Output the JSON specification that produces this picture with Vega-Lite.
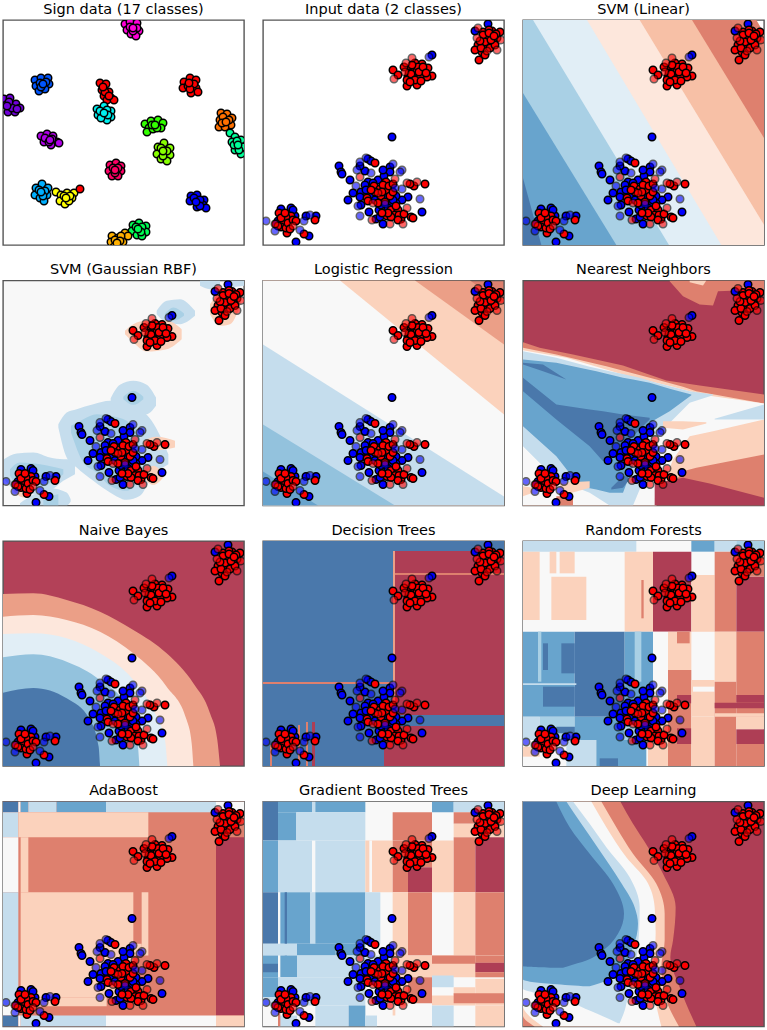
{"$schema":"https://vega.github.io/schema/vega-lite/v6.json","padding":{"left":2,"top":0,"right":0,"bottom":0},"config":{"view":{"stroke":"#555","strokeWidth":1.4},"title":{"font":"DejaVu Sans","fontSize":14.5,"fontWeight":"normal","anchor":"middle","offset":3,"color":"#000"},"legend":{"disable":true},"range":{"category":["#4a78ab","#68a4cd","#93c2dd","#a9d0e5","#c5dded","#e1eef6","#f8f8f8","#fde7dc","#fbd2bc","#f7c0a6","#eb9f87","#de806e","#ae3e55"]}},"columns":3,"spacing":{"row":14.5,"column":17},"resolve":{"scale":{"color":"shared","fill":"independent","opacity":"independent"}},
"datasets":{
"two":[
{"x":129,"y":117,"c":"0","s":"train"},{"x":76,"y":146,"c":"0","s":"train"},{"x":78,"y":152,"c":"0","s":"train"},{"x":79,"y":154,"c":"0","s":"train"},{"x":87,"y":160,"c":"0","s":"train"},{"x":85,"y":180,"c":"0","s":"train"},{"x":90,"y":173,"c":"0","s":"train"},{"x":98,"y":172,"c":"0","s":"train"},{"x":97,"y":177,"c":"0","s":"train"},{"x":98,"y":185,"c":"0","s":"train"},{"x":106,"y":192,"c":"0","s":"train"},{"x":116,"y":190,"c":"0","s":"train"},{"x":113,"y":199,"c":"0","s":"train"},{"x":117,"y":197,"c":"0","s":"train"},{"x":120,"y":204,"c":"0","s":"train"},{"x":159,"y":192,"c":"0","s":"train"},{"x":145,"y":177,"c":"0","s":"train"},{"x":139,"y":180,"c":"0","s":"train"},{"x":133,"y":183,"c":"0","s":"train"},{"x":123,"y":178,"c":"0","s":"train"},{"x":109,"y":176,"c":"0","s":"train"},{"x":115,"y":160,"c":"0","s":"train"},{"x":105,"y":162,"c":"0","s":"train"},{"x":110,"y":163,"c":"0","s":"train"},{"x":102,"y":151,"c":"0","s":"train"},{"x":105,"y":139,"c":"0","s":"train"},{"x":108,"y":141,"c":"0","s":"train"},{"x":127,"y":147,"c":"0","s":"train"},{"x":127,"y":152,"c":"0","s":"train"},{"x":121,"y":156,"c":"0","s":"train"},{"x":133,"y":176,"c":"0","s":"train"},{"x":128,"y":184,"c":"0","s":"train"},{"x":97,"y":146,"c":"0","s":"train"},{"x":102,"y":165,"c":"0","s":"train"},{"x":118,"y":185,"c":"0","s":"train"},{"x":125,"y":188,"c":"0","s":"train"},{"x":130,"y":180,"c":"0","s":"train"},{"x":112,"y":180,"c":"0","s":"train"},{"x":103,"y":170,"c":"0","s":"train"},{"x":120,"y":150,"c":"0","s":"train"},{"x":126,"y":172,"c":"0","s":"train"},
{"x":18,"y":189,"c":"0","s":"train"},{"x":28,"y":188,"c":"0","s":"train"},{"x":15,"y":201,"c":"0","s":"train"},{"x":43,"y":196,"c":"0","s":"train"},{"x":53,"y":196,"c":"0","s":"train"},{"x":33,"y":222,"c":"0","s":"train"},{"x":46,"y":216,"c":"0","s":"train"},{"x":32,"y":196,"c":"0","s":"train"},{"x":30,"y":190,"c":"0","s":"train"},{"x":13,"y":204,"c":"0","s":"train"},
{"x":169,"y":35,"c":"0","s":"train"},{"x":212,"y":11,"c":"0","s":"train"},{"x":225,"y":4,"c":"0","s":"train"},
{"x":112,"y":143,"c":"1","s":"train"},{"x":162,"y":164,"c":"1","s":"train"},{"x":151,"y":166,"c":"1","s":"train"},{"x":147,"y":164,"c":"1","s":"train"},{"x":104,"y":178,"c":"1","s":"train"},{"x":123,"y":162,"c":"1","s":"train"},{"x":111,"y":166,"c":"1","s":"train"},{"x":117,"y":169,"c":"1","s":"train"},{"x":124,"y":170,"c":"1","s":"train"},{"x":127,"y":176,"c":"1","s":"train"},{"x":128,"y":190,"c":"1","s":"train"},{"x":135,"y":190,"c":"1","s":"train"},{"x":132,"y":195,"c":"1","s":"train"},{"x":124,"y":196,"c":"1","s":"train"},{"x":138,"y":199,"c":"1","s":"train"},{"x":148,"y":197,"c":"1","s":"train"},{"x":150,"y":198,"c":"1","s":"train"},{"x":118,"y":176,"c":"1","s":"train"},{"x":105,"y":181,"c":"1","s":"train"},{"x":120,"y":165,"c":"1","s":"train"},{"x":128,"y":197,"c":"1","s":"train"},{"x":136,"y":195,"c":"1","s":"train"},{"x":112,"y":172,"c":"1","s":"train"},{"x":119,"y":172,"c":"1","s":"train"},{"x":126,"y":166,"c":"1","s":"train"},{"x":130,"y":172,"c":"1","s":"train"},{"x":122,"y":182,"c":"1","s":"train"},{"x":115,"y":183,"c":"1","s":"train"},{"x":125,"y":193,"c":"1","s":"train"},{"x":133,"y":186,"c":"1","s":"train"},{"x":141,"y":194,"c":"1","s":"train"},{"x":108,"y":170,"c":"1","s":"train"},{"x":130,"y":164,"c":"1","s":"train"},{"x":135,"y":200,"c":"1","s":"train"},{"x":119,"y":193,"c":"1","s":"train"},
{"x":16,"y":193,"c":"1","s":"train"},{"x":24,"y":213,"c":"1","s":"train"},{"x":21,"y":202,"c":"1","s":"train"},{"x":28,"y":196,"c":"1","s":"train"},{"x":18,"y":207,"c":"1","s":"train"},{"x":52,"y":200,"c":"1","s":"train"},{"x":41,"y":214,"c":"1","s":"train"},{"x":23,"y":197,"c":"1","s":"train"},{"x":23,"y":208,"c":"1","s":"train"},{"x":18,"y":198,"c":"1","s":"train"},{"x":25,"y":203,"c":"1","s":"train"},{"x":30,"y":200,"c":"1","s":"train"},{"x":22,"y":193,"c":"1","s":"train"},{"x":15,"y":206,"c":"1","s":"train"},{"x":27,"y":209,"c":"1","s":"train"},{"x":33,"y":201,"c":"1","s":"train"},
{"x":130,"y":50,"c":"1","s":"train"},{"x":135,"y":55,"c":"1","s":"train"},{"x":144,"y":66,"c":"1","s":"train"},{"x":154,"y":65,"c":"1","s":"train"},{"x":169,"y":56,"c":"1","s":"train"},{"x":164,"y":57,"c":"1","s":"train"},{"x":157,"y":57,"c":"1","s":"train"},{"x":161,"y":51,"c":"1","s":"train"},{"x":165,"y":48,"c":"1","s":"train"},{"x":159,"y":44,"c":"1","s":"train"},{"x":152,"y":43,"c":"1","s":"train"},{"x":147,"y":48,"c":"1","s":"train"},{"x":150,"y":52,"c":"1","s":"train"},{"x":145,"y":57,"c":"1","s":"train"},{"x":144,"y":60,"c":"1","s":"train"},{"x":150,"y":58,"c":"1","s":"train"},{"x":154,"y":50,"c":"1","s":"train"},{"x":155,"y":47,"c":"1","s":"train"},{"x":146,"y":53,"c":"1","s":"train"},{"x":148,"y":54,"c":"1","s":"train"},{"x":156,"y":52,"c":"1","s":"train"},{"x":160,"y":47,"c":"1","s":"train"},{"x":141,"y":47,"c":"1","s":"train"},{"x":152,"y":60,"c":"1","s":"train"},{"x":158,"y":61,"c":"1","s":"train"},{"x":163,"y":53,"c":"1","s":"train"},{"x":149,"y":45,"c":"1","s":"train"},{"x":147,"y":62,"c":"1","s":"train"},
{"x":216,"y":40,"c":"1","s":"train"},{"x":220,"y":12,"c":"1","s":"train"},{"x":229,"y":11,"c":"1","s":"train"},{"x":237,"y":12,"c":"1","s":"train"},{"x":234,"y":18,"c":"1","s":"train"},{"x":230,"y":22,"c":"1","s":"train"},{"x":215,"y":25,"c":"1","s":"train"},{"x":220,"y":18,"c":"1","s":"train"},{"x":225,"y":17,"c":"1","s":"train"},{"x":224,"y":25,"c":"1","s":"train"},{"x":219,"y":32,"c":"1","s":"train"},{"x":212,"y":30,"c":"1","s":"train"},{"x":227,"y":28,"c":"1","s":"train"},{"x":232,"y":25,"c":"1","s":"train"},{"x":220,"y":15,"c":"1","s":"train"},{"x":226,"y":10,"c":"1","s":"train"},{"x":222,"y":22,"c":"1","s":"train"},{"x":228,"y":20,"c":"1","s":"train"},{"x":218,"y":28,"c":"1","s":"train"},{"x":233,"y":14,"c":"1","s":"train"},{"x":217,"y":21,"c":"1","s":"train"},{"x":226,"y":13,"c":"1","s":"train"},{"x":222,"y":35,"c":"1","s":"train"},{"x":231,"y":16,"c":"1","s":"train"},
{"x":97,"y":196,"c":"0","s":"test"},{"x":95,"y":186,"c":"0","s":"test"},{"x":157,"y":179,"c":"0","s":"test"},{"x":139,"y":169,"c":"0","s":"test"},{"x":139,"y":150,"c":"0","s":"test"},{"x":130,"y":144,"c":"0","s":"test"},{"x":103,"y":138,"c":"0","s":"test"},{"x":97,"y":142,"c":"0","s":"test"},{"x":94,"y":150,"c":"0","s":"test"},{"x":108,"y":153,"c":"0","s":"test"},{"x":93,"y":166,"c":"0","s":"test"},{"x":122,"y":184,"c":"0","s":"test"},{"x":137,"y":152,"c":"0","s":"test"},{"x":132,"y":168,"c":"0","s":"test"},{"x":3,"y":201,"c":"0","s":"test"},{"x":12,"y":211,"c":"0","s":"test"},{"x":41,"y":201,"c":"0","s":"test"},{"x":47,"y":195,"c":"0","s":"test"},{"x":37,"y":210,"c":"0","s":"test"},{"x":166,"y":37,"c":"0","s":"test"},
{"x":97,"y":157,"c":"1","s":"test"},{"x":144,"y":163,"c":"1","s":"test"},{"x":154,"y":162,"c":"1","s":"test"},{"x":144,"y":188,"c":"1","s":"test"},{"x":127,"y":204,"c":"1","s":"test"},{"x":140,"y":204,"c":"1","s":"test"},{"x":109,"y":200,"c":"1","s":"test"},{"x":110,"y":183,"c":"1","s":"test"},{"x":132,"y":159,"c":"1","s":"test"},{"x":115,"y":173,"c":"1","s":"test"},{"x":12,"y":204,"c":"1","s":"test"},{"x":30,"y":206,"c":"1","s":"test"},{"x":131,"y":59,"c":"1","s":"test"},{"x":143,"y":43,"c":"1","s":"test"},{"x":149,"y":38,"c":"1","s":"test"},{"x":142,"y":52,"c":"1","s":"test"},{"x":215,"y":8,"c":"1","s":"test"},{"x":234,"y":30,"c":"1","s":"test"},{"x":214,"y":18,"c":"1","s":"test"},{"x":224,"y":31,"c":"1","s":"test"},{"x":238,"y":20,"c":"1","s":"test"}
],
"sign":[
{"x":122,"y":4,"c":"m"},{"x":127,"y":2,"c":"m"},{"x":134,"y":3,"c":"m"},{"x":124,"y":10,"c":"m"},{"x":136,"y":11,"c":"m"},{"x":128,"y":14,"c":"m"},{"x":133,"y":16,"c":"m"},{"x":127,"y":7,"c":"m"},{"x":134,"y":8,"c":"m"},{"x":130,"y":11,"c":"m"},{"x":130,"y":8,"c":"m"},
{"x":32,"y":60,"c":"bl"},{"x":38,"y":58,"c":"bl"},{"x":45,"y":58,"c":"bl"},{"x":33,"y":66,"c":"bl"},{"x":46,"y":64,"c":"bl"},{"x":36,"y":71,"c":"bl"},{"x":42,"y":69,"c":"bl"},{"x":37,"y":63,"c":"bl"},{"x":43,"y":62,"c":"bl"},{"x":38,"y":67,"c":"bl"},{"x":40,"y":64,"c":"bl"},
{"x":1,"y":79,"c":"pu"},{"x":7,"y":78,"c":"pu"},{"x":13,"y":84,"c":"pu"},{"x":17,"y":88,"c":"pu"},{"x":5,"y":92,"c":"pu"},{"x":12,"y":92,"c":"pu"},{"x":3,"y":85,"c":"pu"},{"x":9,"y":88,"c":"pu"},{"x":14,"y":89,"c":"pu"},{"x":6,"y":82,"c":"pu"},{"x":4,"y":86,"c":"pu"},
{"x":97,"y":63,"c":"re"},{"x":103,"y":64,"c":"re"},{"x":99,"y":70,"c":"re"},{"x":106,"y":72,"c":"re"},{"x":101,"y":76,"c":"re"},{"x":108,"y":78,"c":"re"},{"x":104,"y":80,"c":"re"},{"x":111,"y":80,"c":"re"},{"x":102,"y":72,"c":"re"},{"x":106,"y":76,"c":"re"},{"x":100,"y":67,"c":"re"},
{"x":181,"y":62,"c":"re"},{"x":187,"y":58,"c":"re"},{"x":193,"y":60,"c":"re"},{"x":180,"y":68,"c":"re"},{"x":193,"y":68,"c":"re"},{"x":188,"y":73,"c":"re"},{"x":195,"y":72,"c":"re"},{"x":185,"y":66,"c":"re"},{"x":191,"y":64,"c":"re"},{"x":187,"y":69,"c":"re"},{"x":186,"y":63,"c":"re"},
{"x":94,"y":89,"c":"cy"},{"x":101,"y":86,"c":"cy"},{"x":108,"y":91,"c":"cy"},{"x":95,"y":95,"c":"cy"},{"x":108,"y":97,"c":"cy"},{"x":104,"y":100,"c":"cy"},{"x":98,"y":98,"c":"cy"},{"x":97,"y":91,"c":"cy"},{"x":104,"y":90,"c":"cy"},{"x":105,"y":95,"c":"cy"},{"x":101,"y":93,"c":"cy"},
{"x":142,"y":104,"c":"gr"},{"x":148,"y":101,"c":"gr"},{"x":155,"y":100,"c":"gr"},{"x":160,"y":103,"c":"gr"},{"x":146,"y":108,"c":"gr"},{"x":158,"y":108,"c":"gr"},{"x":144,"y":112,"c":"gr"},{"x":150,"y":109,"c":"gr"},{"x":154,"y":108,"c":"gr"},{"x":149,"y":105,"c":"gr"},{"x":152,"y":105,"c":"gr"},
{"x":218,"y":93,"c":"or"},{"x":224,"y":94,"c":"or"},{"x":229,"y":98,"c":"or"},{"x":217,"y":100,"c":"or"},{"x":228,"y":105,"c":"or"},{"x":216,"y":107,"c":"or"},{"x":222,"y":107,"c":"or"},{"x":220,"y":97,"c":"or"},{"x":226,"y":100,"c":"or"},{"x":219,"y":103,"c":"or"},{"x":223,"y":102,"c":"or"},
{"x":38,"y":116,"c":"vi"},{"x":44,"y":114,"c":"vi"},{"x":50,"y":116,"c":"vi"},{"x":41,"y":122,"c":"vi"},{"x":54,"y":122,"c":"vi"},{"x":48,"y":125,"c":"vi"},{"x":56,"y":123,"c":"vi"},{"x":42,"y":118,"c":"vi"},{"x":46,"y":122,"c":"vi"},{"x":49,"y":119,"c":"vi"},{"x":47,"y":120,"c":"vi"},
{"x":227,"y":113,"c":"sp"},{"x":232,"y":117,"c":"sp"},{"x":238,"y":120,"c":"sp"},{"x":229,"y":122,"c":"sp"},{"x":240,"y":127,"c":"sp"},{"x":232,"y":130,"c":"sp"},{"x":238,"y":134,"c":"sp"},{"x":231,"y":125,"c":"sp"},{"x":236,"y":130,"c":"sp"},{"x":234,"y":121,"c":"sp"},{"x":235,"y":125,"c":"sp"},
{"x":155,"y":127,"c":"ye"},{"x":161,"y":123,"c":"ye"},{"x":167,"y":128,"c":"ye"},{"x":154,"y":134,"c":"ye"},{"x":167,"y":135,"c":"ye"},{"x":158,"y":139,"c":"ye"},{"x":164,"y":141,"c":"ye"},{"x":158,"y":128,"c":"ye"},{"x":164,"y":131,"c":"ye"},{"x":160,"y":136,"c":"ye"},{"x":160,"y":131,"c":"ye"},
{"x":107,"y":145,"c":"cr"},{"x":113,"y":143,"c":"cr"},{"x":118,"y":146,"c":"cr"},{"x":106,"y":151,"c":"cr"},{"x":118,"y":151,"c":"cr"},{"x":109,"y":156,"c":"cr"},{"x":115,"y":156,"c":"cr"},{"x":110,"y":148,"c":"cr"},{"x":115,"y":148,"c":"cr"},{"x":112,"y":153,"c":"cr"},{"x":112,"y":150,"c":"cr"},
{"x":33,"y":168,"c":"sk"},{"x":39,"y":164,"c":"sk"},{"x":45,"y":168,"c":"sk"},{"x":32,"y":175,"c":"sk"},{"x":44,"y":175,"c":"sk"},{"x":37,"y":178,"c":"sk"},{"x":41,"y":181,"c":"sk"},{"x":36,"y":170,"c":"sk"},{"x":42,"y":171,"c":"sk"},{"x":40,"y":176,"c":"sk"},{"x":38,"y":172,"c":"sk"},
{"x":53,"y":172,"c":"yl"},{"x":58,"y":175,"c":"yl"},{"x":64,"y":173,"c":"yl"},{"x":71,"y":173,"c":"yl"},{"x":57,"y":181,"c":"yl"},{"x":69,"y":178,"c":"yl"},{"x":62,"y":184,"c":"yl"},{"x":66,"y":181,"c":"yl"},{"x":61,"y":176,"c":"yl"},{"x":67,"y":176,"c":"yl"},{"x":63,"y":178,"c":"yl"},{"x":77,"y":169,"c":"re"},
{"x":188,"y":176,"c":"bu"},{"x":194,"y":175,"c":"bu"},{"x":201,"y":180,"c":"bu"},{"x":187,"y":181,"c":"bu"},{"x":200,"y":185,"c":"bu"},{"x":194,"y":187,"c":"bu"},{"x":203,"y":188,"c":"bu"},{"x":191,"y":178,"c":"bu"},{"x":197,"y":180,"c":"bu"},{"x":197,"y":186,"c":"bu"},{"x":193,"y":182,"c":"bu"},
{"x":130,"y":205,"c":"gn"},{"x":136,"y":203,"c":"gn"},{"x":143,"y":206,"c":"gn"},{"x":129,"y":211,"c":"gn"},{"x":143,"y":212,"c":"gn"},{"x":134,"y":215,"c":"gn"},{"x":139,"y":216,"c":"gn"},{"x":133,"y":207,"c":"gn"},{"x":139,"y":207,"c":"gn"},{"x":138,"y":212,"c":"gn"},{"x":135,"y":209,"c":"gn"},
{"x":109,"y":216,"c":"am"},{"x":115,"y":218,"c":"am"},{"x":122,"y":213,"c":"am"},{"x":108,"y":222,"c":"am"},{"x":120,"y":222,"c":"am"},{"x":125,"y":216,"c":"am"},{"x":111,"y":227,"c":"am"},{"x":112,"y":220,"c":"am"},{"x":118,"y":216,"c":"am"},{"x":117,"y":221,"c":"am"},{"x":114,"y":223,"c":"am"}
],
"knn":[
{"g":"a1","l":"m","x":440,"y":3,"y2":5},{"g":"a1","l":"m","x":480,"y":3,"y2":50},{"g":"a1","l":"m","x":530,"y":3,"y2":75},{"g":"a1","l":"m","x":570,"y":3,"y2":78},{"g":"a1","l":"m","x":585,"y":3,"y2":35},{"g":"a1","l":"m","x":723,"y":3,"y2":30},
{"g":"a2","l":"j","x":500,"y":3,"y2":8},{"g":"a2","l":"j","x":540,"y":3,"y2":18},{"g":"a2","l":"j","x":550,"y":3,"y2":3},
{"g":"b","l":"m","x":0,"y":188,"y2":678},{"g":"b","l":"m","x":50,"y":205,"y2":678},{"g":"b","l":"m","x":150,"y":225,"y2":678},{"g":"b","l":"m","x":300,"y":258,"y2":678},{"g":"b","l":"m","x":430,"y":303,"y2":678},{"g":"b","l":"m","x":530,"y":318,"y2":678},{"g":"b","l":"m","x":723,"y":345,"y2":678},
{"g":"c","l":"j","x":0,"y":205,"y2":678},{"g":"c","l":"j","x":100,"y":225,"y2":678},{"g":"c","l":"j","x":250,"y":260,"y2":678},{"g":"c","l":"j","x":400,"y":300,"y2":678},{"g":"c","l":"j","x":480,"y":322,"y2":575},{"g":"c","l":"j","x":520,"y":335,"y2":565},{"g":"c","l":"j","x":723,"y":372,"y2":525},
{"g":"d","l":"h","x":0,"y":212,"y2":678},{"g":"d","l":"h","x":130,"y":235,"y2":678},{"g":"d","l":"h","x":300,"y":285,"y2":678},{"g":"d","l":"h","x":400,"y":310,"y2":678},{"g":"d","l":"h","x":450,"y":322,"y2":540},{"g":"d","l":"h","x":500,"y":335,"y2":470},{"g":"d","l":"h","x":570,"y":350,"y2":455},{"g":"d","l":"h","x":723,"y":372,"y2":420},
{"g":"e","l":"f","x":0,"y":215,"y2":500},{"g":"e","l":"f","x":100,"y":235,"y2":600},{"g":"e","l":"f","x":200,"y":262,"y2":640},{"g":"e","l":"f","x":260,"y":275,"y2":678},{"g":"e","l":"f","x":330,"y":290,"y2":678},{"g":"e","l":"f","x":350,"y":295,"y2":630},{"g":"e","l":"f","x":400,"y":310,"y2":470},{"g":"e","l":"f","x":500,"y":335,"y2":370},{"g":"e","l":"f","x":570,"y":345,"y2":347},
{"g":"e2","l":"f","x":575,"y":418,"y2":420},{"g":"e2","l":"f","x":723,"y":375,"y2":420},
{"g":"f","l":"b","x":0,"y":240,"y2":440},{"g":"f","l":"b","x":100,"y":250,"y2":530},{"g":"f","l":"b","x":170,"y":265,"y2":620},{"g":"f","l":"b","x":220,"y":275,"y2":630},{"g":"f","l":"b","x":260,"y":285,"y2":640},{"g":"f","l":"b","x":300,"y":295,"y2":640},{"g":"f","l":"b","x":330,"y":300,"y2":560},{"g":"f","l":"b","x":380,"y":310,"y2":430},{"g":"f","l":"b","x":440,"y":328,"y2":395},{"g":"f","l":"b","x":505,"y":345,"y2":347},
{"g":"g","l":"a","x":0,"y":295,"y2":335},{"g":"g","l":"a","x":100,"y":375,"y2":420},{"g":"g","l":"a","x":200,"y":390,"y2":500},{"g":"g","l":"a","x":240,"y":395,"y2":545},{"g":"g","l":"a","x":300,"y":405,"y2":500},{"g":"g","l":"a","x":380,"y":415,"y2":420},
{"g":"g2","l":"a","x":0,"y":250,"y2":255},{"g":"g2","l":"a","x":60,"y":255,"y2":275},{"g":"g2","l":"a","x":130,"y":300,"y2":300},
{"g":"g3","l":"a","x":265,"y":625,"y2":630},{"g":"g3","l":"a","x":300,"y":590,"y2":625},{"g":"g3","l":"a","x":315,"y":590,"y2":605},
{"g":"h","l":"j","x":0,"y":620,"y2":650},{"g":"h","l":"j","x":30,"y":625,"y2":640},
{"g":"h2","l":"j","x":110,"y":610,"y2":650},{"g":"h2","l":"j","x":200,"y":605,"y2":625},
{"g":"h3","l":"m","x":100,"y":650,"y2":678},{"g":"h3","l":"m","x":150,"y":650,"y2":678},
{"g":"h4","l":"j","x":420,"y":425,"y2":445},{"g":"h4","l":"j","x":480,"y":425,"y2":450},{"g":"h4","l":"j","x":550,"y":428,"y2":432},
{"g":"i","l":"n","x":395,"y":612,"y2":678},{"g":"i","l":"n","x":480,"y":595,"y2":678},{"g":"i","l":"n","x":560,"y":612,"y2":678},{"g":"i","l":"n","x":723,"y":655,"y2":678}
],
"rbf":[
{"g":"a","l":"f","x":12,"y":545,"y2":605},{"g":"a","l":"f","x":50,"y":528,"y2":640},{"g":"a","l":"f","x":100,"y":525,"y2":650},{"g":"a","l":"f","x":150,"y":540,"y2":640},{"g":"a","l":"f","x":190,"y":545,"y2":610},{"g":"a","l":"f","x":225,"y":545,"y2":590},
{"g":"b","l":"f","x":175,"y":440,"y2":450},{"g":"b","l":"f","x":200,"y":405,"y2":540},{"g":"b","l":"f","x":230,"y":395,"y2":570},{"g":"b","l":"f","x":280,"y":380,"y2":610},{"g":"b","l":"f","x":330,"y":370,"y2":645},{"g":"b","l":"f","x":380,"y":385,"y2":667},{"g":"b","l":"f","x":420,"y":395,"y2":655},{"g":"b","l":"f","x":455,"y":430,"y2":600},{"g":"b","l":"f","x":505,"y":530,"y2":560},
{"g":"c","l":"f","x":332,"y":362,"y2":375},{"g":"c","l":"f","x":360,"y":322,"y2":400},{"g":"c","l":"f","x":400,"y":310,"y2":400},{"g":"c","l":"f","x":440,"y":322,"y2":410},{"g":"c","l":"f","x":468,"y":360,"y2":385},
{"g":"d","l":"f","x":60,"y":677,"y2":684},{"g":"d","l":"f","x":100,"y":652,"y2":684},{"g":"d","l":"f","x":150,"y":632,"y2":684},{"g":"d","l":"f","x":200,"y":645,"y2":684},{"g":"d","l":"f","x":212,"y":665,"y2":672},
{"g":"e","l":"f","x":470,"y":100,"y2":110},{"g":"e","l":"f","x":500,"y":70,"y2":135},{"g":"e","l":"f","x":540,"y":65,"y2":140},{"g":"e","l":"f","x":585,"y":100,"y2":115},
{"g":"f","l":"f","x":600,"y":9,"y2":25},{"g":"f","l":"f","x":630,"y":9,"y2":35},{"g":"f","l":"f","x":660,"y":9,"y2":30},{"g":"f2","l":"f","x":690,"y":9,"y2":30},{"g":"f2","l":"f","x":732,"y":9,"y2":25},
{"g":"m1","l":"e","x":30,"y":575,"y2":595},{"g":"m1","l":"e","x":60,"y":555,"y2":625},{"g":"m1","l":"e","x":120,"y":560,"y2":625},{"g":"m1","l":"e","x":190,"y":575,"y2":590},
{"g":"m2","l":"e","x":213,"y":445,"y2":465},{"g":"m2","l":"e","x":250,"y":425,"y2":555},{"g":"m2","l":"e","x":290,"y":410,"y2":585},{"g":"m2","l":"e","x":330,"y":415,"y2":625},{"g":"m2","l":"e","x":380,"y":430,"y2":640},{"g":"m2","l":"e","x":420,"y":470,"y2":600},
{"g":"m3","l":"e","x":370,"y":358,"y2":365},{"g":"m3","l":"e","x":400,"y":340,"y2":382},{"g":"m3","l":"e","x":430,"y":358,"y2":365},
{"g":"m4","l":"e","x":495,"y":108,"y2":115},{"g":"m4","l":"e","x":520,"y":90,"y2":130},{"g":"m4","l":"e","x":552,"y":108,"y2":115},
{"g":"m5","l":"e","x":130,"y":660,"y2":684},{"g":"m5","l":"e","x":175,"y":650,"y2":684},
{"g":"n1","l":"j","x":375,"y":160,"y2":170},{"g":"n1","l":"j","x":400,"y":140,"y2":195},{"g":"n1","l":"j","x":440,"y":130,"y2":222},{"g":"n1","l":"j","x":500,"y":130,"y2":215},{"g":"n1","l":"j","x":545,"y":155,"y2":185},
{"g":"n2","l":"j","x":630,"y":80,"y2":110},{"g":"n2","l":"j","x":660,"y":50,"y2":145},{"g":"n2","l":"j","x":690,"y":60,"y2":140},{"g":"n2","l":"j","x":722,"y":60,"y2":80},
{"g":"n3","l":"j","x":430,"y":490,"y2":505},{"g":"n3","l":"j","x":470,"y":478,"y2":518},{"g":"n3","l":"j","x":525,"y":490,"y2":510},
{"g":"n4","l":"j","x":430,"y":590,"y2":600},{"g":"n4","l":"j","x":460,"y":565,"y2":622},{"g":"n4","l":"j","x":490,"y":590,"y2":600},
{"g":"n5","l":"j","x":40,"y":625,"y2":640},{"g":"n5","l":"j","x":70,"y":625,"y2":660},{"g":"n5","l":"j","x":95,"y":625,"y2":640}
],
"nb":[
{"g":"a","l":"l","x":9,"y":162,"y2":678},{"g":"a","l":"l","x":100,"y":160,"y2":678},{"g":"a","l":"l","x":200,"y":180,"y2":678},{"g":"a","l":"l","x":300,"y":215,"y2":678},{"g":"a","l":"l","x":400,"y":270,"y2":678},{"g":"a","l":"l","x":500,"y":340,"y2":678},{"g":"a","l":"l","x":580,"y":430,"y2":678},{"g":"a","l":"l","x":630,"y":520,"y2":678},{"g":"a","l":"l","x":652,"y":600,"y2":678},{"g":"a","l":"l","x":660,"y":678,"y2":678},
{"g":"b","l":"i","x":9,"y":230,"y2":678},{"g":"b","l":"i","x":100,"y":225,"y2":678},{"g":"b","l":"i","x":200,"y":240,"y2":678},{"g":"b","l":"i","x":300,"y":275,"y2":678},{"g":"b","l":"i","x":400,"y":340,"y2":678},{"g":"b","l":"i","x":500,"y":440,"y2":678},{"g":"b","l":"i","x":560,"y":540,"y2":678},{"g":"b","l":"i","x":575,"y":610,"y2":678},{"g":"b","l":"i","x":580,"y":678,"y2":678},
{"g":"c","l":"g","x":9,"y":282,"y2":678},{"g":"c","l":"g","x":100,"y":280,"y2":678},{"g":"c","l":"g","x":200,"y":295,"y2":678},{"g":"c","l":"g","x":300,"y":340,"y2":678},{"g":"c","l":"g","x":400,"y":420,"y2":678},{"g":"c","l":"g","x":460,"y":510,"y2":678},{"g":"c","l":"g","x":495,"y":600,"y2":678},{"g":"c","l":"g","x":502,"y":678,"y2":678},
{"g":"d","l":"d","x":9,"y":352,"y2":678},{"g":"d","l":"d","x":100,"y":343,"y2":678},{"g":"d","l":"d","x":200,"y":365,"y2":678},{"g":"d","l":"d","x":300,"y":420,"y2":678},{"g":"d","l":"d","x":380,"y":500,"y2":678},{"g":"d","l":"d","x":412,"y":600,"y2":678},{"g":"d","l":"d","x":418,"y":678,"y2":678},
{"g":"e","l":"a","x":9,"y":458,"y2":678},{"g":"e","l":"a","x":100,"y":444,"y2":678},{"g":"e","l":"a","x":200,"y":475,"y2":678},{"g":"e","l":"a","x":270,"y":540,"y2":678},{"g":"e","l":"a","x":296,"y":620,"y2":678},{"g":"e","l":"a","x":300,"y":678,"y2":678}
],
"deep":[
{"g":"a","l":"m","y":3,"x":0,"x2":292},{"g":"a","l":"m","y":70,"x":0,"x2":330},{"g":"a","l":"m","y":140,"x":0,"x2":375},{"g":"a","l":"m","y":220,"x":0,"x2":420},{"g":"a","l":"m","y":320,"x":0,"x2":458},{"g":"a","l":"m","y":420,"x":0,"x2":450},{"g":"a","l":"m","y":470,"x":0,"x2":442},{"g":"a","l":"m","y":560,"x":0,"x2":470},{"g":"a","l":"m","y":678,"x":0,"x2":520},
{"g":"b","l":"j","y":3,"x":0,"x2":235},{"g":"b","l":"j","y":80,"x":0,"x2":280},{"g":"b","l":"j","y":160,"x":0,"x2":330},{"g":"b","l":"j","y":250,"x":0,"x2":400},{"g":"b","l":"j","y":340,"x":0,"x2":425},{"g":"b","l":"j","y":420,"x":0,"x2":425},{"g":"b","l":"j","y":500,"x":0,"x2":415},{"g":"b","l":"j","y":600,"x":0,"x2":430},{"g":"b","l":"j","y":645,"x":0,"x2":450},{"g":"b","l":"j","y":678,"x":35,"x2":468},
{"g":"c","l":"h","y":3,"x":0,"x2":205},{"g":"c","l":"h","y":80,"x":0,"x2":250},{"g":"c","l":"h","y":170,"x":0,"x2":310},{"g":"c","l":"h","y":240,"x":0,"x2":370},{"g":"c","l":"h","y":320,"x":0,"x2":395},{"g":"c","l":"h","y":400,"x":0,"x2":398},{"g":"c","l":"h","y":480,"x":0,"x2":392},{"g":"c","l":"h","y":560,"x":0,"x2":390},{"g":"c","l":"h","y":615,"x":0,"x2":400},{"g":"c","l":"h","y":678,"x":60,"x2":415},
{"g":"d","l":"f","y":3,"x":0,"x2":150},{"g":"d","l":"f","y":70,"x":0,"x2":200},{"g":"d","l":"f","y":140,"x":0,"x2":250},{"g":"d","l":"f","y":230,"x":0,"x2":320},{"g":"d","l":"f","y":320,"x":0,"x2":350},{"g":"d","l":"f","y":400,"x":0,"x2":348},{"g":"d","l":"f","y":480,"x":0,"x2":340},{"g":"d","l":"f","y":565,"x":0,"x2":325},{"g":"d","l":"f","y":590,"x":100,"x2":315},{"g":"d","l":"f","y":630,"x":200,"x2":305},{"g":"d","l":"f","y":668,"x":285,"x2":290},
{"g":"e","l":"b","y":3,"x":0,"x2":130},{"g":"e","l":"b","y":70,"x":0,"x2":175},{"g":"e","l":"b","y":150,"x":0,"x2":230},{"g":"e","l":"b","y":240,"x":0,"x2":290},{"g":"e","l":"b","y":320,"x":0,"x2":335},{"g":"e","l":"b","y":370,"x":0,"x2":345},{"g":"e","l":"b","y":440,"x":0,"x2":330},{"g":"e","l":"b","y":520,"x":0,"x2":280},{"g":"e","l":"b","y":537,"x":0,"x2":255},{"g":"e","l":"b","y":550,"x":80,"x2":225},{"g":"e","l":"b","y":557,"x":180,"x2":200},
{"g":"f","l":"a","y":3,"x":0,"x2":100},{"g":"f","l":"a","y":80,"x":0,"x2":140},{"g":"f","l":"a","y":160,"x":0,"x2":200},{"g":"f","l":"a","y":250,"x":0,"x2":270},{"g":"f","l":"a","y":340,"x":0,"x2":303},{"g":"f","l":"a","y":400,"x":0,"x2":285},{"g":"f","l":"a","y":450,"x":0,"x2":240},{"g":"f","l":"a","y":480,"x":0,"x2":190},{"g":"f","l":"a","y":497,"x":0,"x2":135},{"g":"f","l":"a","y":502,"x":100,"x2":120}
],
"svmlin":[
{"g":"a","l":"m","x":0,"y":6,"y2":681},{"g":"a","l":"m","x":700,"y":6,"y2":681},{"g":"a","l":"m","x":723,"y":45,"y2":681},
{"g":"b","l":"k","x":0,"y":6,"y2":681},{"g":"b","l":"k","x":507,"y":6,"y2":681},{"g":"b","l":"k","x":723,"y":360,"y2":681},
{"g":"c","l":"i","x":0,"y":6,"y2":681},{"g":"c","l":"i","x":350,"y":6,"y2":681},{"g":"c","l":"i","x":723,"y":620,"y2":681},
{"g":"d","l":"g","x":0,"y":6,"y2":681},{"g":"d","l":"g","x":192,"y":6,"y2":681},{"g":"d","l":"g","x":595,"y":681,"y2":681},
{"g":"e","l":"e","x":0,"y":6,"y2":681},{"g":"e","l":"e","x":30,"y":6,"y2":681},{"g":"e","l":"e","x":438,"y":681,"y2":681},
{"g":"f","l":"b","x":0,"y":225,"y2":681},{"g":"f","l":"b","x":280,"y":681,"y2":681},
{"g":"h","l":"a","x":0,"y":480,"y2":681},{"g":"h","l":"a","x":55,"y":681,"y2":681}
],
"logit":[
{"g":"a","l":"l","x":263,"y":281,"y2":506},{"g":"a","l":"l","x":470,"y":281,"y2":506},{"g":"a","l":"l","x":504,"y":305,"y2":506},
{"g":"b","l":"j","x":263,"y":281,"y2":506},{"g":"b","l":"j","x":415,"y":281,"y2":506},{"g":"b","l":"j","x":504,"y":345,"y2":506},
{"g":"c","l":"h","x":263,"y":281,"y2":506},{"g":"c","l":"h","x":340,"y":281,"y2":506},{"g":"c","l":"h","x":504,"y":415,"y2":506},
{"g":"e","l":"f","x":263,"y":345,"y2":506},{"g":"e","l":"f","x":504,"y":497,"y2":506},
{"g":"f","l":"d","x":263,"y":425,"y2":506},{"g":"f","l":"d","x":395,"y":506,"y2":506},
{"g":"g","l":"b","x":263,"y":472,"y2":506},{"g":"g","l":"b","x":318,"y":506,"y2":506}
],
"tree":[
{"x":263,"x2":504,"y":541,"y2":766,"l":"a"},{"x":393,"x2":504,"y":551,"y2":715,"l":"n"},{"x":384,"x2":504,"y":726,"y2":766,"l":"n"},{"x":393,"x2":504,"y":573,"y2":575,"l":"m"},{"x":263,"x2":393,"y":682,"y2":684,"l":"m"},{"x":298,"x2":300,"y":725,"y2":766,"l":"m"},{"x":306,"x2":308,"y":722,"y2":766,"l":"m"},{"x":312,"x2":315,"y":722,"y2":766,"l":"n"},{"x":270,"x2":272,"y":745,"y2":766,"l":"m"},{"x":393,"x2":395,"y":551,"y2":715,"l":"l"}
],
"forest":[
{"x":0,"x2":723,"y":3,"y2":678,"l":"h"},
{"x":0,"x2":340,"y":3,"y2":35,"l":"f"},{"x":505,"x2":575,"y":3,"y2":35,"l":"b"},{"x":575,"x2":640,"y":3,"y2":35,"l":"f"},{"x":640,"x2":723,"y":3,"y2":35,"l":"e"},
{"x":0,"x2":50,"y":35,"y2":240,"l":"j"},{"x":80,"x2":100,"y":35,"y2":100,"l":"j"},{"x":110,"x2":155,"y":35,"y2":100,"l":"j"},{"x":85,"x2":190,"y":110,"y2":240,"l":"j"},{"x":305,"x2":390,"y":35,"y2":275,"l":"j"},{"x":355,"x2":362,"y":120,"y2":235,"l":"m"},{"x":390,"x2":505,"y":35,"y2":275,"l":"n"},{"x":505,"x2":575,"y":105,"y2":275,"l":"j"},{"x":575,"x2":640,"y":35,"y2":275,"l":"m"},{"x":640,"x2":723,"y":35,"y2":110,"l":"m"},{"x":640,"x2":723,"y":110,"y2":275,"l":"n"},
{"x":0,"x2":155,"y":275,"y2":530,"l":"b"},{"x":45,"x2":55,"y":275,"y2":425,"l":"e"},{"x":155,"x2":305,"y":275,"y2":530,"l":"a"},{"x":115,"x2":155,"y":310,"y2":400,"l":"a"},{"x":60,"x2":75,"y":310,"y2":390,"l":"a"},{"x":305,"x2":390,"y":275,"y2":530,"l":"b"},{"x":335,"x2":355,"y":275,"y2":425,"l":"e"},{"x":0,"x2":160,"y":430,"y2":435,"l":"f"},{"x":60,"x2":155,"y":440,"y2":500,"l":"a"},{"x":435,"x2":505,"y":275,"y2":390,"l":"j"},{"x":462,"x2":500,"y":275,"y2":310,"l":"m"},{"x":435,"x2":505,"y":390,"y2":678,"l":"m"},{"x":462,"x2":505,"y":465,"y2":490,"l":"n"},{"x":462,"x2":505,"y":565,"y2":612,"l":"n"},{"x":575,"x2":640,"y":275,"y2":425,"l":"j"},{"x":640,"x2":723,"y":275,"y2":465,"l":"m"},{"x":505,"x2":575,"y":420,"y2":530,"l":"j"},{"x":510,"x2":575,"y":440,"y2":455,"l":"h"},{"x":505,"x2":575,"y":530,"y2":678,"l":"j"},{"x":575,"x2":640,"y":425,"y2":678,"l":"m"},{"x":640,"x2":723,"y":465,"y2":530,"l":"m"},{"x":575,"x2":723,"y":488,"y2":505,"l":"n"},{"x":640,"x2":723,"y":465,"y2":488,"l":"n"},{"x":575,"x2":723,"y":520,"y2":530,"l":"j"},{"x":640,"x2":723,"y":530,"y2":568,"l":"j"},{"x":640,"x2":723,"y":568,"y2":612,"l":"n"},{"x":640,"x2":723,"y":612,"y2":678,"l":"m"},
{"x":0,"x2":50,"y":530,"y2":600,"l":"f"},{"x":50,"x2":155,"y":530,"y2":600,"l":"e"},{"x":100,"x2":230,"y":560,"y2":580,"l":"a"},{"x":155,"x2":305,"y":530,"y2":600,"l":"b"},{"x":305,"x2":375,"y":530,"y2":600,"l":"e"},{"x":375,"x2":435,"y":530,"y2":678,"l":"j"},{"x":130,"x2":220,"y":600,"y2":678,"l":"f"},{"x":220,"x2":370,"y":600,"y2":678,"l":"b"},{"x":230,"x2":285,"y":655,"y2":678,"l":"a"},{"x":0,"x2":50,"y":620,"y2":650,"l":"j"},{"x":390,"x2":435,"y":275,"y2":530,"l":"h"}
],
"ada":[
{"x":9,"x2":732,"y":3,"y2":678,"l":"m"},{"x":648,"x2":732,"y":110,"y2":645,"l":"n"},
{"x":9,"x2":55,"y":3,"y2":35,"l":"a"},{"x":55,"x2":62,"y":3,"y2":35,"l":"h"},{"x":62,"x2":85,"y":3,"y2":35,"l":"b"},{"x":85,"x2":170,"y":3,"y2":35,"l":"f"},{"x":170,"x2":318,"y":3,"y2":35,"l":"b"},{"x":318,"x2":648,"y":3,"y2":35,"l":"f"},{"x":648,"x2":732,"y":3,"y2":35,"l":"h"},
{"x":9,"x2":55,"y":35,"y2":110,"l":"f"},{"x":9,"x2":55,"y":110,"y2":275,"l":"h"},{"x":9,"x2":55,"y":275,"y2":615,"l":"f"},{"x":9,"x2":55,"y":615,"y2":645,"l":"h"},{"x":9,"x2":55,"y":645,"y2":678,"l":"a"},
{"x":55,"x2":62,"y":645,"y2":678,"l":"h"},{"x":62,"x2":318,"y":645,"y2":678,"l":"f"},{"x":318,"x2":648,"y":645,"y2":678,"l":"h"},{"x":648,"x2":732,"y":645,"y2":678,"l":"j"},
{"x":55,"x2":445,"y":35,"y2":110,"l":"j"},{"x":62,"x2":85,"y":110,"y2":275,"l":"j"},{"x":62,"x2":400,"y":275,"y2":590,"l":"j"},{"x":62,"x2":320,"y":590,"y2":617,"l":"j"},{"x":425,"x2":445,"y":275,"y2":465,"l":"j"},{"x":400,"x2":425,"y":430,"y2":465,"l":"j"}
],
"gb":[
{"x":3,"x2":726,"y":3,"y2":678,"l":"h"},
{"x":3,"x2":48,"y":3,"y2":120,"l":"a"},{"x":48,"x2":150,"y":3,"y2":35,"l":"b"},{"x":150,"x2":160,"y":3,"y2":35,"l":"f"},{"x":160,"x2":310,"y":3,"y2":35,"l":"b"},{"x":510,"x2":575,"y":3,"y2":35,"l":"b"},{"x":575,"x2":726,"y":3,"y2":35,"l":"f"},
{"x":48,"x2":103,"y":35,"y2":120,"l":"b"},{"x":103,"x2":310,"y":35,"y2":120,"l":"f"},{"x":392,"x2":510,"y":35,"y2":120,"l":"m"},{"x":575,"x2":640,"y":35,"y2":70,"l":"m"},{"x":575,"x2":640,"y":70,"y2":110,"l":"j"},{"x":640,"x2":726,"y":35,"y2":110,"l":"j"},
{"x":3,"x2":48,"y":120,"y2":275,"l":"b"},{"x":48,"x2":150,"y":120,"y2":275,"l":"f"},{"x":160,"x2":310,"y":120,"y2":275,"l":"f"},{"x":310,"x2":392,"y":120,"y2":275,"l":"j"},{"x":392,"x2":438,"y":120,"y2":275,"l":"m"},{"x":438,"x2":510,"y":120,"y2":200,"l":"m"},{"x":438,"x2":510,"y":200,"y2":275,"l":"n"},{"x":510,"x2":575,"y":120,"y2":275,"l":"j"},{"x":575,"x2":640,"y":110,"y2":275,"l":"m"},{"x":640,"x2":726,"y":110,"y2":275,"l":"n"},{"x":322,"x2":330,"y":120,"y2":275,"l":"h"},
{"x":3,"x2":48,"y":275,"y2":430,"l":"a"},{"x":55,"x2":145,"y":275,"y2":430,"l":"b"},{"x":68,"x2":75,"y":275,"y2":465,"l":"a"},{"x":145,"x2":160,"y":275,"y2":430,"l":"f"},{"x":160,"x2":310,"y":275,"y2":430,"l":"b"},{"x":310,"x2":355,"y":275,"y2":430,"l":"f"},{"x":392,"x2":438,"y":275,"y2":530,"l":"j"},{"x":438,"x2":510,"y":275,"y2":465,"l":"m"},{"x":575,"x2":640,"y":275,"y2":465,"l":"j"},{"x":640,"x2":726,"y":275,"y2":465,"l":"m"},
{"x":3,"x2":105,"y":430,"y2":465,"l":"f"},{"x":105,"x2":220,"y":430,"y2":465,"l":"b"},{"x":220,"x2":310,"y":430,"y2":465,"l":"b"},
{"x":3,"x2":48,"y":465,"y2":530,"l":"b"},{"x":3,"x2":48,"y":490,"y2":515,"l":"a"},{"x":55,"x2":105,"y":465,"y2":530,"l":"b"},{"x":105,"x2":392,"y":465,"y2":530,"l":"f"},{"x":438,"x2":726,"y":465,"y2":530,"l":"j"},{"x":510,"x2":640,"y":465,"y2":490,"l":"m"},{"x":640,"x2":726,"y":465,"y2":487,"l":"m"},{"x":640,"x2":726,"y":487,"y2":515,"l":"n"},{"x":640,"x2":726,"y":515,"y2":530,"l":"m"},
{"x":3,"x2":48,"y":530,"y2":590,"l":"b"},{"x":48,"x2":310,"y":530,"y2":615,"l":"f"},{"x":392,"x2":438,"y":530,"y2":615,"l":"j"},{"x":438,"x2":510,"y":530,"y2":608,"l":"m"},{"x":510,"x2":575,"y":525,"y2":560,"l":"f"},{"x":510,"x2":640,"y":585,"y2":615,"l":"j"},{"x":575,"x2":640,"y":560,"y2":585,"l":"j"},{"x":640,"x2":726,"y":535,"y2":615,"l":"j"},{"x":575,"x2":726,"y":578,"y2":608,"l":"m"},
{"x":3,"x2":48,"y":590,"y2":615,"l":"f"},{"x":50,"x2":105,"y":645,"y2":678,"l":"f"},{"x":160,"x2":260,"y":615,"y2":678,"l":"f"},{"x":260,"x2":310,"y":615,"y2":678,"l":"b"},{"x":310,"x2":345,"y":645,"y2":678,"l":"f"},{"x":510,"x2":575,"y":615,"y2":678,"l":"f"},{"x":640,"x2":726,"y":615,"y2":678,"l":"j"},{"x":48,"x2":55,"y":615,"y2":678,"l":"m"},{"x":392,"x2":400,"y":615,"y2":645,"l":"j"}
]
},
"concat":[
{"width":241,"height":225,"title":"Sign data (17 classes)","data":{"name":"sign"},"mark":{"type":"circle","stroke":"#000","strokeWidth":1.5,"size":56,"opacity":1,"clip":true},"encoding":{"x":{"field":"x","type":"quantitative","axis":null,"scale":{"domain":[0,241]}},"y":{"field":"y","type":"quantitative","axis":null,"scale":{"domain":[225,0]}},"fill":{"field":"c","type":"nominal","scale":{"domain":["m","bl","pu","re","cy","gr","or","vi","sp","ye","cr","sk","yl","bu","gn","am"],"range":["#ff00d8","#0055ff","#7000d8","#ff0000","#00f0f0","#33ff00","#ff7000","#b000e8","#00ff99","#88ff00","#ff0066","#00b0ff","#ffff00","#0000ff","#00ff55","#ffb000"]}}}},
{"width":241,"height":225,"title":"Input data (2 classes)","data":{"name":"two"},"mark":{"type":"circle","stroke":"#000","strokeWidth":1.5,"size":56,"clip":true},"encoding":{"x":{"field":"x","type":"quantitative","axis":null,"scale":{"domain":[0,241]}},"y":{"field":"y","type":"quantitative","axis":null,"scale":{"domain":[225,0]}},"fill":{"field":"c","type":"nominal","scale":{"domain":["0","1"],"range":["#0000ff","#ff0000"]}},"opacity":{"field":"s","type":"nominal","scale":{"domain":["train","test"],"range":[1,0.6]}}}},
{"width":241,"height":225,"title":"SVM (Linear)","resolve":{"scale":{"x":"independent","y":"independent"}},"layer":[
{"data":{"name":"svmlin"},"mark":{"type":"area","clip":true},"encoding":{"x":{"field":"x","type":"quantitative","axis":null,"scale":{"domain":[0,723]}},"y":{"field":"y","type":"quantitative","axis":null,"scale":{"domain":[681,6]}},"y2":{"field":"y2"},"detail":{"field":"g"},"color":{"field":"l","type":"nominal"}}},
{"data":{"name":"two"},"mark":{"type":"circle","stroke":"#000","strokeWidth":1.5,"size":56,"clip":true},"encoding":{"x":{"field":"x","type":"quantitative","axis":null,"scale":{"domain":[0,241]}},"y":{"field":"y","type":"quantitative","axis":null,"scale":{"domain":[225,0]}},"fill":{"field":"c","type":"nominal","scale":{"domain":["0","1"],"range":["#0000ff","#ff0000"]}},"opacity":{"field":"s","type":"nominal","scale":{"domain":["train","test"],"range":[1,0.6]}}}}]},
{"width":241,"height":225,"title":"SVM (Gaussian RBF)","view":{"fill":"#f8f8f8"},"resolve":{"scale":{"x":"independent","y":"independent"}},"layer":[
{"data":{"name":"rbf"},"mark":{"type":"area","clip":true,"interpolate":"monotone"},"encoding":{"x":{"field":"x","type":"quantitative","axis":null,"scale":{"domain":[9,732]}},"y":{"field":"y","type":"quantitative","axis":null,"scale":{"domain":[684,9]}},"y2":{"field":"y2"},"detail":{"field":"g"},"color":{"field":"l","type":"nominal"}}},
{"data":{"name":"two"},"mark":{"type":"circle","stroke":"#000","strokeWidth":1.5,"size":56,"clip":true},"encoding":{"x":{"field":"x","type":"quantitative","axis":null,"scale":{"domain":[0,241]}},"y":{"field":"y","type":"quantitative","axis":null,"scale":{"domain":[225,0]}},"fill":{"field":"c","type":"nominal","scale":{"domain":["0","1"],"range":["#0000ff","#ff0000"]}},"opacity":{"field":"s","type":"nominal","scale":{"domain":["train","test"],"range":[1,0.6]}}}}]},
{"width":241,"height":225,"title":"Logistic Regression","view":{"fill":"#de806e"},"resolve":{"scale":{"x":"independent","y":"independent"}},"layer":[
{"data":{"name":"logit"},"mark":{"type":"area","clip":true},"encoding":{"x":{"field":"x","type":"quantitative","axis":null,"scale":{"domain":[263,504]}},"y":{"field":"y","type":"quantitative","axis":null,"scale":{"domain":[506,281]}},"y2":{"field":"y2"},"detail":{"field":"g"},"color":{"field":"l","type":"nominal"}}},
{"data":{"name":"two"},"mark":{"type":"circle","stroke":"#000","strokeWidth":1.5,"size":56,"clip":true},"encoding":{"x":{"field":"x","type":"quantitative","axis":null,"scale":{"domain":[0,241]}},"y":{"field":"y","type":"quantitative","axis":null,"scale":{"domain":[225,0]}},"fill":{"field":"c","type":"nominal","scale":{"domain":["0","1"],"range":["#0000ff","#ff0000"]}},"opacity":{"field":"s","type":"nominal","scale":{"domain":["train","test"],"range":[1,0.6]}}}}]},
{"width":241,"height":225,"title":"Nearest Neighbors","view":{"fill":"#ae3e55"},"resolve":{"scale":{"x":"independent","y":"independent"}},"layer":[
{"data":{"name":"knn"},"mark":{"type":"area","clip":true},"encoding":{"x":{"field":"x","type":"quantitative","axis":null,"scale":{"domain":[0,723]}},"y":{"field":"y","type":"quantitative","axis":null,"scale":{"domain":[678,3]}},"y2":{"field":"y2"},"detail":{"field":"g"},"color":{"field":"l","type":"nominal"}}},
{"data":{"name":"two"},"mark":{"type":"circle","stroke":"#000","strokeWidth":1.5,"size":56,"clip":true},"encoding":{"x":{"field":"x","type":"quantitative","axis":null,"scale":{"domain":[0,241]}},"y":{"field":"y","type":"quantitative","axis":null,"scale":{"domain":[225,0]}},"fill":{"field":"c","type":"nominal","scale":{"domain":["0","1"],"range":["#0000ff","#ff0000"]}},"opacity":{"field":"s","type":"nominal","scale":{"domain":["train","test"],"range":[1,0.6]}}}}]},
{"width":241,"height":225,"title":"Naive Bayes","view":{"fill":"#b34158"},"resolve":{"scale":{"x":"independent","y":"independent"}},"layer":[
{"data":{"name":"nb"},"mark":{"type":"area","clip":true,"interpolate":"monotone"},"encoding":{"x":{"field":"x","type":"quantitative","axis":null,"scale":{"domain":[9,732]}},"y":{"field":"y","type":"quantitative","axis":null,"scale":{"domain":[678,3]}},"y2":{"field":"y2"},"detail":{"field":"g"},"color":{"field":"l","type":"nominal"}}},
{"data":{"name":"two"},"mark":{"type":"circle","stroke":"#000","strokeWidth":1.5,"size":56,"clip":true},"encoding":{"x":{"field":"x","type":"quantitative","axis":null,"scale":{"domain":[0,241]}},"y":{"field":"y","type":"quantitative","axis":null,"scale":{"domain":[225,0]}},"fill":{"field":"c","type":"nominal","scale":{"domain":["0","1"],"range":["#0000ff","#ff0000"]}},"opacity":{"field":"s","type":"nominal","scale":{"domain":["train","test"],"range":[1,0.6]}}}}]},
{"width":241,"height":225,"title":"Decision Trees","resolve":{"scale":{"x":"independent","y":"independent"}},"layer":[
{"data":{"name":"tree"},"mark":{"type":"rect","clip":true},"encoding":{"x":{"field":"x","type":"quantitative","axis":null,"scale":{"domain":[263,504]}},"x2":{"field":"x2"},"y":{"field":"y","type":"quantitative","axis":null,"scale":{"domain":[766,541]}},"y2":{"field":"y2"},"color":{"field":"l","type":"nominal"}}},
{"data":{"name":"two"},"mark":{"type":"circle","stroke":"#000","strokeWidth":1.5,"size":56,"clip":true},"encoding":{"x":{"field":"x","type":"quantitative","axis":null,"scale":{"domain":[0,241]}},"y":{"field":"y","type":"quantitative","axis":null,"scale":{"domain":[225,0]}},"fill":{"field":"c","type":"nominal","scale":{"domain":["0","1"],"range":["#0000ff","#ff0000"]}},"opacity":{"field":"s","type":"nominal","scale":{"domain":["train","test"],"range":[1,0.6]}}}}]},
{"width":241,"height":225,"title":"Random Forests","resolve":{"scale":{"x":"independent","y":"independent"}},"layer":[
{"data":{"name":"forest"},"mark":{"type":"rect","clip":true},"encoding":{"x":{"field":"x","type":"quantitative","axis":null,"scale":{"domain":[0,723]}},"x2":{"field":"x2"},"y":{"field":"y","type":"quantitative","axis":null,"scale":{"domain":[678,3]}},"y2":{"field":"y2"},"color":{"field":"l","type":"nominal"}}},
{"data":{"name":"two"},"mark":{"type":"circle","stroke":"#000","strokeWidth":1.5,"size":56,"clip":true},"encoding":{"x":{"field":"x","type":"quantitative","axis":null,"scale":{"domain":[0,241]}},"y":{"field":"y","type":"quantitative","axis":null,"scale":{"domain":[225,0]}},"fill":{"field":"c","type":"nominal","scale":{"domain":["0","1"],"range":["#0000ff","#ff0000"]}},"opacity":{"field":"s","type":"nominal","scale":{"domain":["train","test"],"range":[1,0.6]}}}}]},
{"width":241,"height":225,"title":"AdaBoost","resolve":{"scale":{"x":"independent","y":"independent"}},"layer":[
{"data":{"name":"ada"},"mark":{"type":"rect","clip":true},"encoding":{"x":{"field":"x","type":"quantitative","axis":null,"scale":{"domain":[9,732]}},"x2":{"field":"x2"},"y":{"field":"y","type":"quantitative","axis":null,"scale":{"domain":[678,3]}},"y2":{"field":"y2"},"color":{"field":"l","type":"nominal"}}},
{"data":{"name":"two"},"mark":{"type":"circle","stroke":"#000","strokeWidth":1.5,"size":56,"clip":true},"encoding":{"x":{"field":"x","type":"quantitative","axis":null,"scale":{"domain":[0,241]}},"y":{"field":"y","type":"quantitative","axis":null,"scale":{"domain":[225,0]}},"fill":{"field":"c","type":"nominal","scale":{"domain":["0","1"],"range":["#0000ff","#ff0000"]}},"opacity":{"field":"s","type":"nominal","scale":{"domain":["train","test"],"range":[1,0.6]}}}}]},
{"width":241,"height":225,"title":"Gradient Boosted Trees","resolve":{"scale":{"x":"independent","y":"independent"}},"layer":[
{"data":{"name":"gb"},"mark":{"type":"rect","clip":true},"encoding":{"x":{"field":"x","type":"quantitative","axis":null,"scale":{"domain":[3,726]}},"x2":{"field":"x2"},"y":{"field":"y","type":"quantitative","axis":null,"scale":{"domain":[678,3]}},"y2":{"field":"y2"},"color":{"field":"l","type":"nominal"}}},
{"data":{"name":"two"},"mark":{"type":"circle","stroke":"#000","strokeWidth":1.5,"size":56,"clip":true},"encoding":{"x":{"field":"x","type":"quantitative","axis":null,"scale":{"domain":[0,241]}},"y":{"field":"y","type":"quantitative","axis":null,"scale":{"domain":[225,0]}},"fill":{"field":"c","type":"nominal","scale":{"domain":["0","1"],"range":["#0000ff","#ff0000"]}},"opacity":{"field":"s","type":"nominal","scale":{"domain":["train","test"],"range":[1,0.6]}}}}]},
{"width":241,"height":225,"title":"Deep Learning","view":{"fill":"#ae3e55"},"resolve":{"scale":{"x":"independent","y":"independent"}},"layer":[
{"data":{"name":"deep"},"mark":{"type":"area","clip":true,"orient":"horizontal","interpolate":"monotone"},"encoding":{"y":{"field":"y","type":"quantitative","axis":null,"scale":{"domain":[678,3]}},"x":{"field":"x","type":"quantitative","axis":null,"scale":{"domain":[0,723]}},"x2":{"field":"x2"},"detail":{"field":"g"},"color":{"field":"l","type":"nominal"}}},
{"data":{"name":"two"},"mark":{"type":"circle","stroke":"#000","strokeWidth":1.5,"size":56,"clip":true},"encoding":{"x":{"field":"x","type":"quantitative","axis":null,"scale":{"domain":[0,241]}},"y":{"field":"y","type":"quantitative","axis":null,"scale":{"domain":[225,0]}},"fill":{"field":"c","type":"nominal","scale":{"domain":["0","1"],"range":["#0000ff","#ff0000"]}},"opacity":{"field":"s","type":"nominal","scale":{"domain":["train","test"],"range":[1,0.6]}}}}]}
]}
